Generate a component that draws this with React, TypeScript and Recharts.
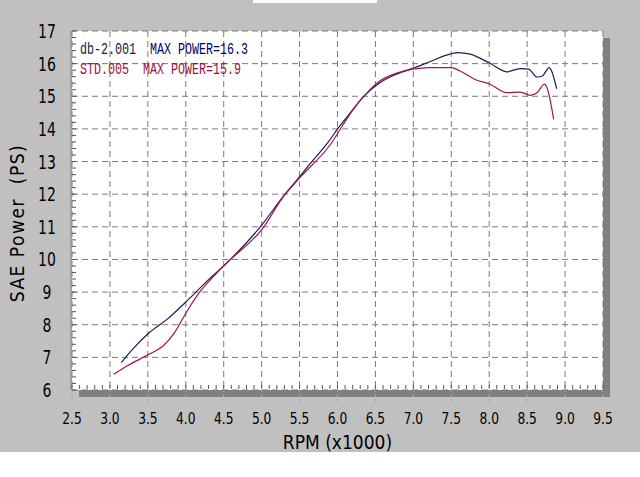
import { LineChart, Line, XAxis, YAxis, CartesianGrid } from 'recharts';

const FONT = "'Liberation Sans Narrow', 'DejaVu Sans Condensed', 'Arial Narrow', sans-serif";
const MONO = "'Liberation Mono', 'DejaVu Sans Mono', monospace";

const rpmTicks = [2.5, 3.0, 3.5, 4.0, 4.5, 5.0, 5.5, 6.0, 6.5, 7.0, 7.5, 8.0, 8.5, 9.0, 9.5];
const powerTicks = [6, 7, 8, 9, 10, 11, 12, 13, 14, 15, 16, 17];

// db-2.001
const blueRpm = [3.15, 3.3, 3.52, 3.76, 4.02, 4.29, 4.53, 5.0, 5.28, 5.51, 5.62, 5.88, 6.01, 6.15, 6.33, 6.53, 6.77, 7.02, 7.25, 7.48, 7.59, 7.75, 8.01, 8.23, 8.41, 8.52, 8.63, 8.7, 8.79, 8.81, 8.89];
const bluePower = [6.84, 7.25, 7.76, 8.18, 8.74, 9.36, 9.87, 11.05, 11.92, 12.56, 12.88, 13.6, 14.03, 14.44, 14.96, 15.37, 15.67, 15.88, 16.09, 16.29, 16.34, 16.29, 16.01, 15.75, 15.85, 15.83, 15.59, 15.62, 15.88, 15.83, 15.23];

// STD.005
const redRpm = [3.05, 3.23, 3.52, 3.7, 3.85, 4.02, 4.2, 4.38, 4.53, 5.02, 5.28, 5.51, 5.93, 6.06, 6.19, 6.37, 6.54, 6.77, 6.99, 7.21, 7.5, 7.61, 7.83, 8.01, 8.23, 8.41, 8.54, 8.63, 8.73, 8.76, 8.85];
const redPower = [6.48, 6.74, 7.1, 7.35, 7.75, 8.43, 9.05, 9.51, 9.87, 10.97, 11.9, 12.52, 13.6, 14.08, 14.54, 15.06, 15.44, 15.7, 15.83, 15.88, 15.88, 15.78, 15.5, 15.37, 15.11, 15.13, 15.03, 15.11, 15.37, 15.27, 14.29];

const blueData = blueRpm.map((rpm, i) => ({ rpm, power: bluePower[i] }));
const redData = redRpm.map((rpm, i) => ({ rpm, power: redPower[i] }));

// minor tick positions along the frame
const minorRpm = Array.from({ length: 71 }, (_, i) => Math.round((2.5 + i * 0.1) * 10) / 10);
const minorPower = Array.from({ length: 56 }, (_, i) => Math.round((6 + i * 0.2) * 10) / 10);

// small marks drawn at each minor tick position
function MinorXMark({ x, y }: any) {
  return <line x1={x} x2={x} y1={y - 1} y2={y - 5} stroke="#555" strokeWidth={1} />;
}

function MinorYMark({ x, y }: any) {
  return <line x1={x} x2={x + 4} y1={y} y2={y} stroke="#555" strokeWidth={1} />;
}

function RpmTick({ x, y, payload }: any) {
  return (
    <text
      transform={`translate(${x},${y + 21}) scale(0.85,1)`}
      textAnchor="middle"
      fontSize={16}
      fontFamily={FONT}
      fill="#000"
    >
      {Number(payload.value).toFixed(1)}
    </text>
  );
}

function PowerTick({ x, y, payload }: any) {
  return (
    <text
      transform={`translate(${x - 24},${y + 7}) scale(0.82,1)`}
      textAnchor="middle"
      fontSize={19}
      fontFamily={FONT}
      fill="#000"
    >
      {payload.value}
    </text>
  );
}

export default function App() {
  return (
    <div style={{ position: 'absolute', left: 0, top: 0, width: 640, height: 477, background: '#fff' }}>
      <div style={{ position: 'absolute', left: 0, top: 0, width: 640, height: 452, background: '#c0c0c0' }} />
      <div style={{ position: 'absolute', left: 253, top: 0, width: 124, height: 3, background: '#fff' }} />
      <div style={{ position: 'absolute', left: 79, top: 38, width: 531, height: 359, background: '#808080' }} />
      <div style={{ position: 'absolute', left: 72, top: 31, width: 531, height: 359, background: '#fff' }} />
      <div style={{ position: 'absolute', left: 0, top: 0 }}>
        <LineChart width={640} height={452} margin={{ top: 31, right: 37, bottom: 0, left: 0 }}>
          <CartesianGrid
            xAxisId="main"
            yAxisId="main"
            fill="none"
            stroke="#7a7a7a"
            strokeDasharray="6 4"
          />
          <XAxis
            xAxisId="main"
            type="number"
            dataKey="rpm"
            domain={[2.5, 9.5]}
            ticks={rpmTicks}
            allowDataOverflow
            height={61}
            axisLine={false}
            tickSize={11}
            tickMargin={1}
            tickLine={{ stroke: '#a8a8a8', strokeDasharray: '3 2' }}
            tick={<RpmTick />}
            interval={0}
            label={{ value: 'RPM (x1000)', position: 'insideBottom', offset: 2, fontSize: 19, fontFamily: FONT, fill: '#000', dy: -1 }}
          />
          <YAxis
            yAxisId="main"
            type="number"
            domain={[6, 17]}
            ticks={powerTicks}
            allowDataOverflow
            width={71}
            axisLine={{ stroke: '#888' }}
            tickLine={false}
            tickSize={0}
            tickMargin={0}
            tick={<PowerTick />}
            interval={0}
          />
          <XAxis
            xAxisId="aux"
            type="number"
            dataKey="rpm"
            domain={[2.5, 9.5]}
            ticks={minorRpm}
            allowDataOverflow
            height={1}
            axisLine={false}
            tickLine={false}
            tickSize={0}
            tickMargin={0}
            tick={<MinorXMark />}
            interval={0}
          />
          <YAxis
            yAxisId="aux"
            type="number"
            domain={[6, 17]}
            ticks={minorPower}
            allowDataOverflow
            width={1}
            axisLine={false}
            tickLine={false}
            tickSize={0}
            tickMargin={0}
            tick={<MinorYMark />}
            interval={0}
          />
          {/* invisible series that keeps the minor-tick axes alive */}
          <Line
            xAxisId="aux"
            yAxisId="aux"
            data={blueData}
            dataKey="power"
            stroke="none"
            dot={false}
            activeDot={false}
            legendType="none"
            isAnimationActive={false}
          />
          <Line
            xAxisId="main"
            yAxisId="main"
            data={blueData}
            dataKey="power"
            type="monotone"
            stroke="#1c1c58"
            strokeWidth={1.2}
            dot={false}
            isAnimationActive={false}
          />
          <Line
            xAxisId="main"
            yAxisId="main"
            data={redData}
            dataKey="power"
            type="monotone"
            stroke="#a0164a"
            strokeWidth={1.2}
            dot={false}
            isAnimationActive={false}
          />
        </LineChart>
      </div>
      <div
        style={{
          position: 'absolute',
          left: 17,
          top: 223,
          transform: 'translate(-50%, -50%) rotate(-90deg)',
          transformOrigin: 'center',
          fontFamily: FONT,
          fontSize: 19,
          letterSpacing: 1.5,
          whiteSpace: 'pre',
          color: '#000',
          lineHeight: '20px',
        }}
      >
        SAE Power  (PS)
      </div>
      <div
        style={{
          position: 'absolute',
          left: 80,
          top: 41,
          fontFamily: MONO,
          fontSize: 17,
          lineHeight: '17px',
          whiteSpace: 'pre',
          transform: 'scaleX(0.686)',
          transformOrigin: 'left center',
        }}
      >
        <span style={{ color: '#1a1a40' }}>db-2.001  </span>
        <span style={{ color: '#00006e' }}>MAX POWER=16.3</span>
      </div>
      <div
        style={{
          position: 'absolute',
          left: 80,
          top: 61,
          fontFamily: MONO,
          fontSize: 17,
          lineHeight: '17px',
          whiteSpace: 'pre',
          color: '#a0103c',
          transform: 'scaleX(0.686)',
          transformOrigin: 'left center',
        }}
      >
        STD.005  MAX POWER=15.9
      </div>
    </div>
  );
}
